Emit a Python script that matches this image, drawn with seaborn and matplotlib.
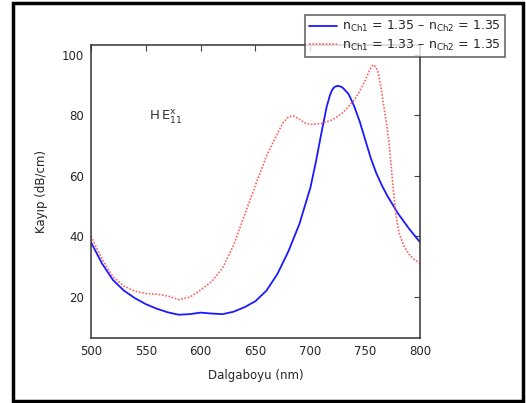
import numpy as np
import pandas as pd
import seaborn as sns
import matplotlib.pyplot as plt
from matplotlib.patches import Rectangle

# values
wl_blue = [500, 510, 520, 530, 540, 550, 560, 570, 580, 590, 600, 610, 620, 630,
           640, 650, 660, 670, 680, 690, 700, 705, 710, 715, 718, 720, 722, 725,
           728, 730, 735, 740, 745, 750, 755, 760, 765, 770, 780, 790, 800]
loss_blue = [38, 31, 25.5, 22, 19.5, 17.5, 16, 14.8, 14, 14.2, 14.7, 14.4, 14.2, 15,
             16.5, 18.5, 22, 27.5, 35, 44, 56, 64.5, 74, 83, 86.8, 88.5, 89.4, 89.8,
             89.5, 89, 87, 83, 78, 72, 66, 61, 57, 53.5, 47.5, 42.5, 38]

wl_red = [500, 510, 520, 530, 540, 550, 560, 570, 580, 590, 600, 610, 620, 630,
          640, 650, 660, 670, 675, 680, 685, 690, 695, 700, 710, 720, 730, 740,
          745, 750, 754, 757, 760, 762, 765, 767, 770, 772, 775, 778, 781, 785,
          790, 795, 800]
loss_red = [40, 32.5, 26.6, 23.5, 21.8, 21, 20.8, 20.2, 19, 19.8, 22.2, 25, 29.5, 37,
            47, 57, 66.5, 74, 77.5, 79.5, 79.8, 78.7, 77.5, 77, 77.3, 78.5, 81, 85,
            88, 91.5, 95, 96.7, 96, 94, 88, 83, 76, 70, 58, 47, 41, 37,
            34, 32.2, 31]

label_blue = r'$\mathregular{n_{Ch1}}$ = 1.35 – $\mathregular{n_{Ch2}}$ = 1.35'
label_red = r'$\mathregular{n_{Ch1}}$ = 1.33 – $\mathregular{n_{Ch2}}$ = 1.35'

sns.set_style("white")
plt.rcParams['font.family'] = ['DejaVu Sans']
plt.rcParams['mathtext.default'] = 'regular'

fig = plt.figure(figsize=(5.26, 4.03), dpi=100)
ax = fig.add_axes([91/526, 1-338/403, (420-91)/526, (338-45)/403])

sns.lineplot(x=wl_blue, y=loss_blue, ax=ax, color='#1a1aff', lw=1.3, label=label_blue)
sns.lineplot(x=wl_red, y=loss_red, ax=ax, color='#ff6060', lw=1.2, ls=(0, (1, 1)),
             label=label_red)

ax.set_xlim(500, 800)
ax.set_ylim(6.3, 103.3)
ax.set_xticks([500, 550, 600, 650, 700, 750, 800])
ax.set_yticks([20, 40, 60, 80, 100])
ax.tick_params(direction='in', length=4, width=0.8, color='#444444',
               top=True, right=True, labelsize=8.5, pad=5)
for s in ax.spines.values():
    s.set_color('#333333')
    s.set_linewidth(1.1)

ax.set_xlabel('Dalgaboyu (nm)', fontsize=8.5, labelpad=8)
ax.set_ylabel('Kayıp (dB/cm)', fontsize=8.5, labelpad=10)

ax.text(553, 79.5, r'$\mathregular{H\,E}_{11}^{x}$', fontsize=9.5, color='#333333',
        ha='left', va='center')

ax.get_legend().remove()
h, l = ax.get_legend_handles_labels()
leg = fig.legend(h, l, loc='upper right', bbox_to_anchor=(505/526, 1-15/403),
                 fontsize=9, frameon=True, fancybox=False, handlelength=2.2,
                 handletextpad=0.4, borderpad=0.35, labelspacing=0.25,
                 borderaxespad=0)
leg.get_frame().set_edgecolor('#333333')
leg.get_frame().set_linewidth(1.1)

# outer black frame of the picture
fig.patches.append(Rectangle((13/526, 2/403), 510/526, 398/403, fill=False,
                             edgecolor='black', lw=2.5, transform=fig.transFigure))

fig.savefig('out.png', dpi=100)
